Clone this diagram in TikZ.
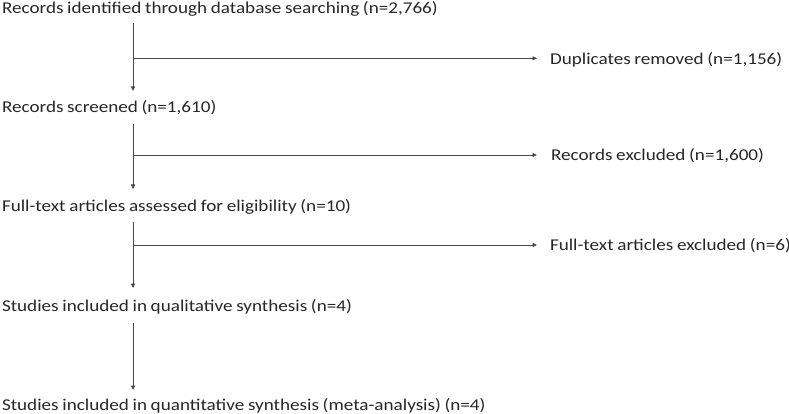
\documentclass[tikz,border=0pt]{standalone}
\usepackage{fontspec}
\setmainfont{Carlito}[FakeStretch=1.16,WordSpace=0.85]
\usetikzlibrary{arrows.meta}
\begin{document}
\begin{tikzpicture}[x=1pt,y=-1pt,
  lbl/.style={anchor=base west,inner sep=0pt,outer sep=0pt,font=\fontsize{16.5}{19}\selectfont,text=black!85},
  arr/.style={draw=black!72,line width=0.8pt,-{Triangle[length=4.5pt,width=4pt]}}]
\useasboundingbox (0,0) rectangle (789,414);
\node[lbl] (r1) at (2,14) {Records identified through database searching (n=2,766)};
\node[lbl] (r2) at (2,112.3) {Records screened (n=1,610)};
\node[lbl] (r3) at (2,211.7) {Full-text articles assessed for eligibility (n=10)};
\node[lbl] (r4) at (2,311.5) {Studies included in qualitative synthesis (n=4)};
\node[lbl] (r5) at (2,410) {Studies included in quantitative synthesis (meta-analysis) (n=4)};
\node[lbl] (d1) at (550,64.5) {Duplicates removed (n=1,156)};
\node[lbl] (d2) at (551,160.5) {Records excluded (n=1,600)};
\node[lbl] (d3) at (550,250.5) {Full-text articles excluded (n=6)};
\coordinate (s1a) at (133,23); \coordinate (s1b) at (133,91);
\coordinate (s2a) at (133,124); \coordinate (s2b) at (133,189);
\coordinate (s3a) at (133,222); \coordinate (s3b) at (133,288);
\coordinate (s4a) at (133,323); \coordinate (s4b) at (133,390);
\coordinate (b1) at (133,58.3); \coordinate (b2) at (133,155); \coordinate (b3) at (133,245);
\draw[arr] (s1a) -- (s1b);
\draw[arr] (s2a) -- (s2b);
\draw[arr] (s3a) -- (s3b);
\draw[arr] (s4a) -- (s4b);
\draw[arr, shorten >=13pt] (b1) -- (b1 -| d1.west);
\draw[arr, shorten >=14pt] (b2) -- (b2 -| d2.west);
\draw[arr, shorten >=13pt] (b3) -- (b3 -| d3.west);
\end{tikzpicture}
\end{document}
